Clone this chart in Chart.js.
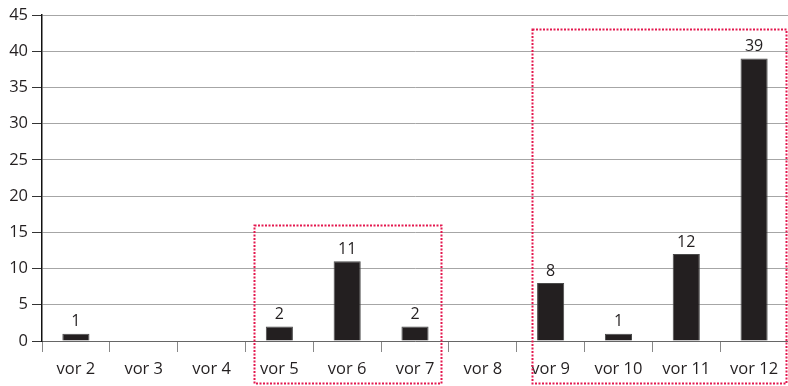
<!DOCTYPE html>
<html>
<head>
<meta charset="utf-8">
<script src="https://cdn.jsdelivr.net/npm/chart.js@4/dist/chart.umd.min.js"></script>
<style>
  html, body { margin: 0; padding: 0; background: #fff; }
  #wrap { width: 788px; height: 386px; position: relative; }
</style>
</head>
<body>
<div id="wrap"><canvas id="c"></canvas></div>
<script>
// Categories and counts
const categories = ['vor 2', 'vor 3', 'vor 4', 'vor 5', 'vor 6', 'vor 7', 'vor 8', 'vor 9', 'vor 10', 'vor 11', 'vor 12'];
const counts = [1, 0, 0, 2, 11, 2, 0, 8, 1, 12, 39];
const yTicks = [0, 5, 10, 15, 20, 25, 30, 35, 40, 45];

// Highlighted groups: first/last category index and top value of the frame
const groupFirst = [3, 7];
const groupLast = [5, 10];
const groupTop = [16, 43.1];

const FONT = "'Open Sans', 'DejaVu Sans', sans-serif";
const INK = '#231f20';

// Value labels above each non-zero bar
const valueLabels = {
  id: 'valueLabels',
  afterDatasetsDraw(chart) {
    const ctx = chart.ctx;
    const meta = chart.getDatasetMeta(0);
    ctx.save();
    ctx.font = '16px ' + FONT;
    ctx.fillStyle = INK;
    ctx.textAlign = 'center';
    ctx.textBaseline = 'bottom';
    meta.data.forEach((bar, i) => {
      if (counts[i] > 0) ctx.fillText(String(counts[i]), bar.x, bar.y - 4);
    });
    ctx.restore();
  }
};

// Dotted frames around groups of categories
const groupFrames = {
  id: 'groupFrames',
  afterDraw(chart) {
    const ctx = chart.ctx;
    const xs = chart.scales.x, ys = chart.scales.y;
    const step = xs.getPixelForValue(1) - xs.getPixelForValue(0);
    ctx.save();
    ctx.strokeStyle = '#e4184f';
    ctx.lineWidth = 2;
    ctx.setLineDash([2, 1.5]);
    for (let g = 0; g < groupFirst.length; g++) {
      const left = xs.getPixelForValue(groupFirst[g]) - step * (g === 0 ? 0.37 : 0.28);
      const right = xs.getPixelForValue(groupLast[g]) + step * (g === 0 ? 0.39 : 0.47);
      const top = ys.getPixelForValue(groupTop[g]);
      const bottom = chart.height - 3;
      ctx.strokeRect(Math.round(left) + 0.5, Math.round(top) + 0.5, Math.round(right - left), Math.round(bottom - top));
    }
    ctx.restore();
  }
};

new Chart(document.getElementById('c'), {
  type: 'bar',
  data: {
    labels: categories,
    datasets: [{
      data: counts,
      backgroundColor: INK,
      borderColor: '#4a4a4a',
      borderWidth: 1,
      barPercentage: 0.4,
      categoryPercentage: 1.0
    }]
  },
  options: {
    responsive: true,
    maintainAspectRatio: false,
    animation: false,
    devicePixelRatio: 1,
    layout: { padding: { top: 15, right: 0, left: 0, bottom: 0 } },
    plugins: { legend: { display: false }, tooltip: { enabled: false } },
    scales: {
      x: {
        afterFit(axis) { axis.height = 45; },
        grid: {
          display: true,
          drawOnChartArea: false,
          drawTicks: true,
          tickLength: 11,
          color: '#888',
          lineWidth: 1,
          offset: true
        },
        border: { display: true, color: '#666', width: 1 },
        ticks: { color: INK, font: { family: FONT, size: 16.5 }, padding: 7, maxRotation: 0 }
      },
      y: {
        min: 0,
        max: 45,
        afterFit(axis) { axis.width = 42; },
        afterBuildTicks(axis) { axis.ticks = yTicks.map(v => ({ value: v })); },
        grid: {
          color: '#a6a6a6',
          lineWidth: 1,
          drawTicks: true,
          tickLength: 10,
          tickColor: '#333'
        },
        border: { display: true, color: '#111', width: 1.5 },
        ticks: { color: INK, font: { family: FONT, size: 16.5 }, padding: 4 }
      }
    }
  },
  plugins: [valueLabels, groupFrames]
});
</script>
</body>
</html>
